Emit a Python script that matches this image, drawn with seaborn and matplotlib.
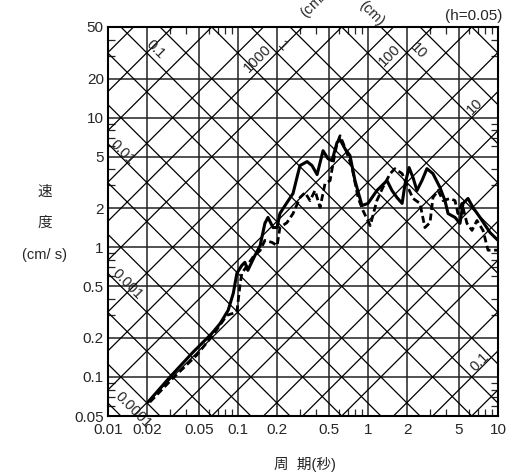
import numpy as np
import pandas as pd
import matplotlib
matplotlib.use("Agg")
import matplotlib.pyplot as plt
from matplotlib.ticker import LogLocator, NullFormatter
import seaborn as sns

# Response spectrum data (period in s, velocity in cm/s)
period_solid = [0.0203, 0.030, 0.045, 0.063, 0.073, 0.084, 0.092, 0.098, 0.107, 0.113,
                0.119, 0.135, 0.148, 0.161, 0.170, 0.186, 0.200, 0.210, 0.230, 0.265,
                0.289, 0.300, 0.340, 0.371, 0.406, 0.451, 0.492, 0.529, 0.577, 0.610,
                0.665, 0.727, 0.794, 0.899, 1.00, 1.17, 1.40, 1.53, 1.67, 1.83,
                1.93, 2.07, 2.22, 2.38, 2.60, 2.84, 3.16, 3.58, 3.91, 4.13,
                4.67, 5.10, 5.38, 5.88, 6.42, 7.27, 8.68, 10.0]
vel_solid = [0.064, 0.100, 0.155, 0.217, 0.259, 0.327, 0.442, 0.630, 0.725, 0.766,
             0.664, 0.865, 1.03, 1.53, 1.70, 1.42, 1.42, 1.82, 2.10, 2.60,
             3.70, 4.27, 4.58, 4.27, 3.64, 5.56, 4.83, 4.66, 6.41, 6.76,
             5.76, 5.09, 3.27, 2.10, 2.18, 2.74, 3.27, 2.74, 2.42, 2.18,
             3.10, 4.12, 3.45, 2.74, 3.27, 4.04, 3.70, 2.89, 2.29, 1.82,
             1.70, 1.53, 2.18, 2.38, 2.03, 1.70, 1.30, 1.13]

period_dash = [0.021, 0.0316, 0.048, 0.064, 0.077, 0.082, 0.098, 0.104, 0.107, 0.130,
               0.148, 0.161, 0.183, 0.200, 0.210, 0.238, 0.265, 0.300, 0.328, 0.358,
               0.391, 0.428, 0.467, 0.511, 0.538, 0.577, 0.610, 0.665, 0.754, 0.838,
               0.915, 1.04, 1.17, 1.30, 1.48, 1.61, 1.83, 2.03, 2.22, 2.51,
               2.74, 3.00, 3.16, 3.46, 3.78, 4.28, 4.67, 4.92, 5.28, 5.77,
               6.31, 6.89, 7.67, 8.38, 10.0]
vel_dash = [0.064, 0.098, 0.147, 0.210, 0.273, 0.299, 0.316, 0.527, 0.630, 0.836,
            0.946, 1.13, 1.09, 1.03, 1.42, 1.55, 1.82, 2.42, 2.64, 2.29,
            2.74, 2.03, 3.10, 3.27, 4.42, 6.30, 7.25, 5.87, 4.12, 2.42,
            1.92, 1.47, 2.29, 2.89, 3.70, 4.04, 3.70, 2.89, 2.38, 2.18,
            1.42, 1.55, 2.42, 2.74, 2.29, 2.38, 2.29, 1.82, 2.18, 1.53,
            1.35, 1.61, 1.35, 0.95, 0.95]

x_ticks = [0.01, 0.02, 0.05, 0.1, 0.2, 0.5, 1, 2, 5, 10]
x_labels = ["0.01", "0.02", "0.05", "0.1", "0.2", "0.5", "1", "2", "5", "10"]
y_ticks = [0.05, 0.1, 0.2, 0.5, 1, 2, 5, 10, 20, 50]
y_labels = ["0.05", "0.1", "0.2", "0.5", "1", "2", "5", "10", "20", "50"]

# tripartite grid levels: displacement (cm) and acceleration (cm/s2)
disp_levels = [m * 10.0 ** e for e in range(-6, 3) for m in (1, 2, 5)]
acc_levels = [m * 10.0 ** e for e in range(-3, 6) for m in (1, 2, 5)]

disp_labels = [("0.1", 0.023, 33.9), ("0.01", 0.0128, 5.37), ("0.001", 0.014, 0.518),
               ("0.0001", 0.0156, 0.0556), ("1", 0.222, 35.7), ("10", 2.43, 32.7)]
acc_labels = [("1000", 0.1426, 28.4), ("100", 1.476, 29.9), ("10", 6.65, 12.3),
              ("0.1", 7.27, 0.130)]

sns.set_style("white")
plt.rcParams["font.family"] = ["Liberation Sans", "Noto Sans CJK JP", "DejaVu Sans"]

fig = plt.figure(figsize=(5.07, 4.76), dpi=100)
ax = fig.add_axes([108 / 507, 60 / 476, 390 / 507, 389 / 476])
ax.set_xscale("log")
ax.set_yscale("log")
ax.set_xlim(0.01, 10)
ax.set_ylim(0.05, 50)

# rectangular grid
for t in x_ticks[1:-1]:
    ax.axvline(t, color="#222222", lw=1.1, zorder=1)
for v in y_ticks[1:-1]:
    ax.axhline(v, color="#222222", lw=1.1, zorder=1)

# diagonal grid
tt = np.array([0.005, 20])
for d in disp_levels:
    ax.plot(tt, 2 * np.pi * d / tt, color="black", lw=0.9, zorder=1)
for a in acc_levels:
    ax.plot(tt, a * tt / (2 * np.pi), color="black", lw=0.9, zorder=1)

for txt, t, v in disp_labels:
    ax.text(t, v, txt, rotation=-45, ha="center", va="center", fontsize=10.5,
            rotation_mode="anchor", clip_on=False, zorder=3)
for txt, t, v in acc_labels:
    ax.text(t, v, txt, rotation=45, ha="center", va="center", fontsize=10.5,
            rotation_mode="anchor", clip_on=False, zorder=3)

# unit labels, partly running off the top edge as in the original
ax.text(0.31, 62, "(cm/s$^2$)", rotation=45, ha="left", va="center", fontsize=10.5,
        rotation_mode="anchor", clip_on=False)
ax.text(1.07, 64, "(cm)", rotation=-45, ha="center", va="center", fontsize=10.5,
        rotation_mode="anchor", clip_on=False)

df_solid = pd.DataFrame({"T": period_solid, "V": vel_solid})
df_dash = pd.DataFrame({"T": period_dash, "V": vel_dash})
sns.lineplot(data=df_solid, x="T", y="V", ax=ax, color="black", lw=2.2,
             estimator=None, sort=False, zorder=4)
sns.lineplot(data=df_dash, x="T", y="V", ax=ax, color="black", lw=2.0,
             estimator=None, sort=False, zorder=4, linestyle=(0, (2.5, 1.3)))

ax.set_xticks(x_ticks)
ax.set_xticklabels(x_labels)
ax.set_yticks(y_ticks)
ax.set_yticklabels(y_labels)
ax.xaxis.set_minor_locator(LogLocator(base=10, subs=(3, 4, 6, 7, 8, 9)))
ax.yaxis.set_minor_locator(LogLocator(base=10, subs=(3, 4, 6, 7, 8, 9)))
ax.xaxis.set_minor_formatter(NullFormatter())
ax.yaxis.set_minor_formatter(NullFormatter())
ax.tick_params(which="major", length=0, labelsize=11)
ax.tick_params(axis="x", which="major", pad=5)
ax.tick_params(axis="y", which="major", pad=3)
ax.tick_params(which="minor", direction="in", length=5, width=0.9,
               top=True, right=True, bottom=True, left=True)
ax.set_xlabel("")
ax.set_ylabel("")
for s in ax.spines.values():
    s.set_linewidth(1.5)
    s.set_color("black")
    s.set_zorder(5)

fig.text(45 / 507, 1 - 192 / 476, "速", ha="center", va="center", fontsize=10.5)
fig.text(45 / 507, 1 - 223 / 476, "度", ha="center", va="center", fontsize=10.5)
fig.text(45 / 507, 1 - 255 / 476, "(cm/ s)", ha="center", va="center", fontsize=10.5)
fig.text(305 / 507, 1 - 465 / 476, "周  期(秒)", ha="center", va="center", fontsize=10.5)
fig.text(502 / 507, 1 - 16 / 476, "(h=0.05)", ha="right", va="center", fontsize=11)

fig.savefig("out.png", dpi=100)
